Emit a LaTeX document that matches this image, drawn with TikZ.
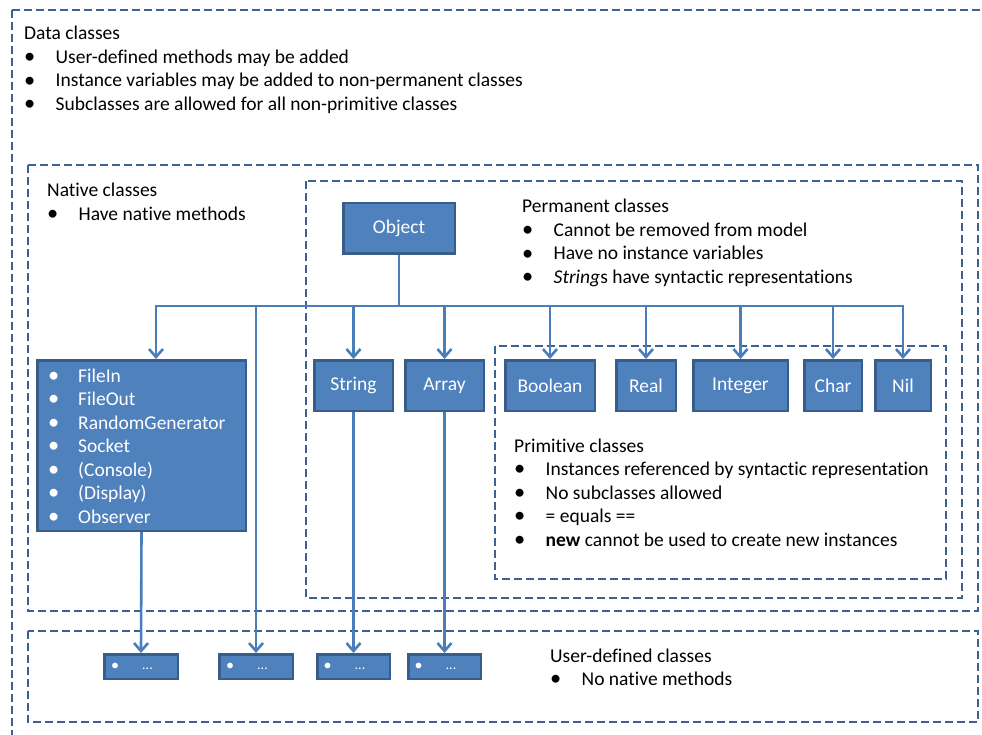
\documentclass[tikz,border=0pt]{standalone}
\usepackage{fontspec}
\setmainfont[Ligatures=NoCommon]{Carlito}
\usetikzlibrary{arrows.meta}
\definecolor{boxfill}{HTML}{4F81BD}
\definecolor{boxline}{HTML}{385D8A}
\definecolor{conncol}{HTML}{4A7EBB}
\definecolor{dashcol}{HTML}{3C6291}
\newcommand{\bigbul}{\raisebox{-0.3pt}{\scalebox{1.15}{•}}}
\newcommand{\bul}{\makebox[31.5pt][l]{\bigbul}}
\newcommand{\wbul}{\makebox[32pt][l]{\hspace{2pt}\bigbul}}
\newcommand{\udots}{\bigbul\kern23pt...\kern18pt}
\begin{document}
\begin{tikzpicture}[x=1pt,y=-1pt,
  font=\fontsize{19.5}{23.5}\selectfont,
  dbox/.style={draw=dashcol, line width=2.7pt, dash pattern=on 8pt off 4pt},
  bbox/.style={draw=boxline, fill=boxfill, line width=2.5pt, text=white, inner sep=0pt},
  ubox/.style={bbox, minimum height=24.5pt, font=\fontsize{14}{16}\selectfont},
  conn/.style={draw=conncol, line width=2.6pt},
  arr/.style={conn, -{Straight Barb[length=8pt,width=14pt]}},
  txt/.style={anchor=base west, inner sep=0pt, align=left}]
\useasboundingbox (0,0) rectangle (982,735);
\fill[white] (0,0) rectangle (982,735);

% dashed grouping boxes
\draw[dbox] (12,10) rectangle (1000,760);
\draw[dbox] (28,165) rectangle (978,611);
\draw[dbox] (306,181) rectangle (962,598);
\draw[dbox] (495,346) rectangle (946,579);
\draw[dbox] (28,631) rectangle (978,722);

% texts
\node[txt] (tdata) at (24,40) {\begin{tabular}[t]{@{}l@{}}Data classes\\
  \bul User-defined methods may be added\\
  \bul Instance variables may be added to non-permanent classes\\
  \bul Subclasses are allowed for all non-primitive classes\end{tabular}};
\node[txt] (tnative) at (47,197) {\begin{tabular}[t]{@{}l@{}}Native classes\\
  \bul Have native methods\end{tabular}};
\node[txt] (tperm) at (522,213) {\begin{tabular}[t]{@{}l@{}}Permanent classes\\
  \bul Cannot be removed from model\\
  \bul Have no instance variables\\
  \bul \textit{String}s have syntactic representations\end{tabular}};
\node[txt] (tprim) at (514,452) {\begin{tabular}[t]{@{}l@{}}Primitive classes\\
  \bul Instances referenced by syntactic representation\\
  \bul No subclasses allowed\\
  \bul = equals ==\\
  \bul \textbf{new} cannot be used to create new instances\end{tabular}};
\node[txt] (tuser) at (550,662) {\begin{tabular}[t]{@{}l@{}}User-defined classes\\
  \bul No native methods\end{tabular}};

% class boxes
\node[bbox, minimum width=111.5pt, minimum height=50.5pt] (obj) at (399,228.5) {Object};
\node[bbox, minimum width=208.5pt, minimum height=170.5pt] (nat) at (141.5,445.5) {};
\node[txt, text=white] (tnat) at (46,382) {\begin{tabular}[t]{@{}l@{}}\wbul FileIn\\
  \wbul FileOut\\ \wbul RandomGenerator\\ \wbul Socket\\ \wbul (Console)\\
  \wbul (Display)\\ \wbul Observer\end{tabular}};
\node[bbox, minimum width=78.5pt, minimum height=50.5pt] (str) at (353.5,385.5) {String};
\node[bbox, minimum width=78.5pt, minimum height=50.5pt] (arrb) at (444.5,385.5) {Array};
\node[bbox, minimum width=89.5pt, minimum height=50.5pt] (bool) at (550,385.5) {Boolean};
\node[bbox, minimum width=59.5pt, minimum height=50.5pt] (real) at (646,385.5) {Real};
\node[bbox, minimum width=94.5pt, minimum height=50.5pt] (int) at (740.5,385.5) {Integer};
\node[bbox, minimum width=57.5pt, minimum height=50.5pt] (char) at (833,385.5) {Char};
\node[bbox, minimum width=55.5pt, minimum height=50.5pt] (nil) at (903,385.5) {Nil};

% user-defined boxes
\node[ubox, minimum width=73.5pt] (u1) at (141,666.5) {\udots};
\node[ubox, minimum width=73.5pt] (u2) at (256,666.5) {\udots};
\node[ubox, minimum width=72.5pt] (u3) at (353.5,666.5) {\udots};
\node[ubox, minimum width=72.5pt] (u4) at (444.5,666.5) {\udots};

% connectors
\coordinate (bus) at (399,306);
\draw[conn] (obj.south) -- (bus);
\draw[arr] (bus) -| ([xshift=14.5pt]nat.north);
\draw[arr] (bus) -| (u2.north);
\draw[arr] (bus) -| (str.north);
\draw[arr] (bus) -| (arrb.north);
\draw[arr] (bus) -| (bool.north);
\draw[arr] (bus) -| (real.north);
\draw[arr] (bus) -| (int.north);
\draw[arr] (bus) -| (char.north);
\draw[arr] (bus) -| (nil.north);
\draw[arr] (nat.south) -- (u1.north);
\draw[arr] (str.south) -- (u3.north);
\draw[arr] (arrb.south) -- (u4.north);
\end{tikzpicture}
\end{document}
